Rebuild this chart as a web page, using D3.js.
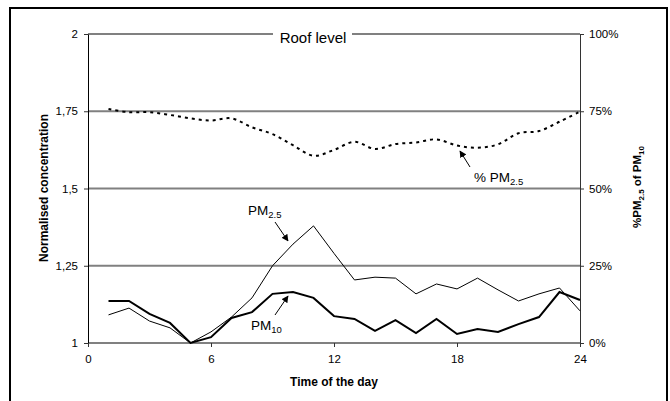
<!DOCTYPE html>
<html>
<head>
<meta charset="utf-8">
<script src="https://cdn.jsdelivr.net/npm/d3@7"></script>
<style>
  body { margin: 0; background: #fff; }
  svg text { font-family: "Liberation Sans", Arial, sans-serif; fill: #000; }
</style>
</head>
<body>
<svg id="chart" width="670" height="401"></svg>
<script>
// hours of the day (x)
let hours = [1,2,3,4,5,6,7,8,9,10,11,12,13,14,15,16,17,18,19,20,21,22,23,24];
// normalised concentrations (left axis)
let pm10 = [1.136,1.136,1.094,1.065,1.0,1.019,1.081,1.10,1.159,1.165,1.146,1.087,
            1.078,1.039,1.074,1.032,1.078,1.029,1.045,1.036,1.061,1.084,1.165,1.139];
let pm25 = [1.091,1.113,1.071,1.049,1.0,1.036,1.084,1.146,1.25,1.32,1.379,1.29,
            1.204,1.213,1.21,1.159,1.191,1.175,1.21,1.172,1.136,1.159,1.178,1.104];
// % PM2.5 of PM10 (right axis)
let ratio = [75.7,74.7,74.7,73.8,72.7,72.0,72.7,69.8,67.6,64.0,60.6,62.5,
             65.1,62.8,64.4,64.9,65.9,63.9,63.2,64.3,67.9,68.6,71.6,74.9];

let xTicks = [0,6,12,18,24];
let yLeftTicks = [1,1.25,1.5,1.75,2];
let yRightTicks = [0,25,50,75,100];

let svg = d3.select("#chart");

// outer frame
svg.append("rect").attr("x", 10).attr("y", 8).attr("width", 657).attr("height", 400)
  .attr("fill", "none").attr("stroke", "#000").attr("stroke-width", 2);

let x = d3.scaleLinear().domain([0, 24]).range([88, 580]);
let yL = d3.scaleLinear().domain([1, 2]).range([343, 34]);
let yR = d3.scaleLinear().domain([0, 100]).range([343, 34]);

// gridlines
svg.append("g").selectAll("line").data(yLeftTicks).join("line")
  .attr("x1", 88).attr("x2", 580)
  .attr("y1", d => yL(d)).attr("y2", d => yL(d))
  .attr("stroke", "#808080").attr("stroke-width", 2);

// axes
let fmt = d => String(d).replace(".", ",");
let left = svg.append("g").attr("transform", "translate(88,0)")
  .call(d3.axisLeft(yL).tickValues(yLeftTicks).tickFormat(fmt).tickSize(4).tickSizeOuter(0).tickPadding(6));
let right = svg.append("g").attr("transform", "translate(580,0)")
  .call(d3.axisRight(yR).tickValues(yRightTicks).tickFormat(d => d + "%").tickSize(4).tickSizeOuter(0).tickPadding(5));
let bottom = svg.append("g").attr("transform", "translate(0,343)")
  .call(d3.axisBottom(x).tickValues(xTicks).tickSize(4).tickSizeOuter(0).tickPadding(8));
bottom.select(".domain").remove();
right.select(".domain").attr("stroke", "#333");
[left, right, bottom].forEach(g => {
  g.selectAll("text").attr("font-size", 11.5).attr("font-family", "Liberation Sans, Arial, sans-serif");
  g.selectAll(".tick line").attr("stroke", "#333");
});

// title box on top gridline
svg.append("rect").attr("x", 273).attr("y", 26).attr("width", 79).attr("height", 18).attr("fill", "#fff");
svg.append("text").attr("x", 313).attr("y", 43).attr("text-anchor", "middle")
  .attr("font-size", 15).text("Roof level");

// lines
let lineL = vals => d3.line().x((d, i) => x(hours[i])).y(d => yL(d))(vals);
svg.append("path").attr("d", lineL(pm25)).attr("fill", "none").attr("stroke", "#000").attr("stroke-width", 1);
svg.append("path").attr("d", lineL(pm10)).attr("fill", "none").attr("stroke", "#000").attr("stroke-width", 2);
let lineR = d3.line().x((d, i) => x(hours[i])).y(d => yR(d)).curve(d3.curveCardinal.tension(0));
svg.append("path").attr("d", lineR(ratio)).attr("fill", "none").attr("stroke", "#000")
  .attr("stroke-width", 2).attr("stroke-dasharray", "3,4");

// axis titles
svg.append("text").attr("transform", "translate(334,386)").attr("text-anchor", "middle")
  .attr("font-size", 12).attr("font-weight", "bold").text("Time of the day");
svg.append("text").attr("transform", "translate(48,188) rotate(-90)").attr("text-anchor", "middle")
  .attr("font-size", 12).attr("font-weight", "bold").text("Normalised concentration");
let rt = svg.append("text").attr("transform", "translate(641,187) rotate(-90)").attr("text-anchor", "middle")
  .attr("font-size", 11.5).attr("font-weight", "bold");
rt.append("tspan").text("%PM");
rt.append("tspan").attr("font-size", 8).attr("dy", 3).text("2.5");
rt.append("tspan").attr("dy", -3).text(" of PM");
rt.append("tspan").attr("font-size", 8).attr("dy", 3).text("10");

// annotations
svg.append("defs").append("marker").attr("id", "arr")
  .attr("viewBox", "0 0 10 10").attr("refX", 9).attr("refY", 5)
  .attr("markerWidth", 7).attr("markerHeight", 7).attr("orient", "auto")
  .append("path").attr("d", "M0,0L10,5L0,10z").attr("fill", "#000");

function label(px, py, main, sub) {
  let t = svg.append("text").attr("x", px).attr("y", py).attr("font-size", 13.5);
  t.append("tspan").text(main);
  t.append("tspan").attr("font-size", 9.5).attr("dy", 3).text(sub);
}
function arrow(x1, y1, x2, y2) {
  svg.append("line").attr("x1", x1).attr("y1", y1).attr("x2", x2).attr("y2", y2)
    .attr("stroke", "#000").attr("stroke-width", 1).attr("marker-end", "url(#arr)");
}
label(248, 215, "PM", "2.5");
arrow(275, 222, 288, 241);
label(251, 330, "PM", "10");
arrow(275, 315, 288, 296);
label(474, 182, "% PM", "2.5");
arrow(470, 167, 460, 151);
</script>
</body>
</html>
